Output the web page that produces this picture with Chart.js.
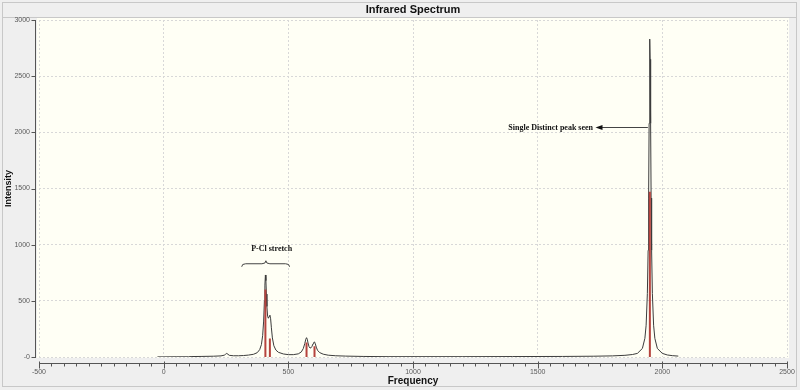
<!DOCTYPE html>
<html>
<head>
<meta charset="utf-8">
<script src="https://cdn.jsdelivr.net/npm/chart.js@4"></script>
<style>
html, body { margin: 0; padding: 0; background: #efefef; }
</style>
</head>
<body>
<canvas id="myChart" width="800" height="390"></canvas>
<script>
// espectro (frecuencia, intensidad)
const frecuencias = [
    -25, 0, 50, 100, 110, 150, 200, 230, 243, 248,
    253, 258, 263, 280, 300, 320, 340, 360, 375, 385,
    392, 397, 401, 404, 406, 408, 410, 412, 414, 417,
    420, 423, 426, 429, 432, 436, 442, 450, 460, 480,
    500, 520, 540, 552, 560, 566, 570, 573, 576, 579,
    583, 587, 591, 595, 599, 602, 605, 608, 612, 617,
    625, 640, 660, 690, 730, 800, 900, 1000, 1200, 1400,
    1600, 1725, 1800, 1850, 1880, 1900, 1920, 1930, 1935, 1940,
    1943, 1945, 1947, 1949, 1950, 1951, 1953, 1955, 1957, 1960,
    1965, 1970, 1980, 2000, 2020, 2040, 2064
]
const intensidades = [
    1, 1, 2, 2, 4, 5, 7, 10, 16, 24,
    32, 24, 15, 11, 11, 13, 17, 24, 38, 65,
    110, 190, 320, 500, 640, 730, 680, 560, 450, 360,
    345, 362, 372, 340, 260, 170, 100, 62, 42, 27,
    21, 21, 28, 45, 75, 120, 158, 172, 158, 125,
    92, 80, 82, 95, 118, 130, 134, 120, 88, 60,
    40, 25, 16, 11, 8, 5, 3, 3, 3, 4,
    5, 7, 10, 15, 22, 32, 76, 166, 283, 566,
    950, 1415, 2080, 2650, 2830, 2650, 2080, 1415, 950, 566,
    283, 166, 76, 32, 18, 12, 8
]

// lineas rojas de cada modo vibracional
const picosFrec = [408, 426, 573, 605, 1950]
const picosAltura = [600, 165, 130, 95, 1470]

const etiquetasX = ['-500', '0', '500', '1000', '1500', '2000', '2500']
const etiquetasY = ['-0', '500', '1000', '1500', '2000', '2500', '3000']

const titulo = 'Infrared Spectrum'
const textoPCl = 'P-Cl stretch'
const textoPico = 'Single Distinct peak seen'

let puntosEspectro = frecuencias.map((f, i) => ({x: f, y: intensidades[i]}))

let puntosPicos = []
for (let i = 0; i < picosFrec.length; i++) {
    puntosPicos.push({x: picosFrec[i], y: 0})
    puntosPicos.push({x: picosFrec[i], y: picosAltura[i]})
    puntosPicos.push({x: picosFrec[i], y: null})
}

const fondo = {
    id: 'fondo',
    beforeDraw(chart) {
        const ctx = chart.ctx
        const a = chart.chartArea
        ctx.save()
        ctx.fillStyle = '#efefef'
        ctx.fillRect(0, 0, chart.width, chart.height)
        ctx.strokeStyle = '#c8c8c8'
        ctx.lineWidth = 1
        ctx.strokeRect(2.5, 2.5, chart.width - 6, chart.height - 6)
        ctx.beginPath()
        ctx.moveTo(3, 17.5)
        ctx.lineTo(chart.width - 4, 17.5)
        ctx.stroke()
        ctx.fillStyle = '#fffff5'
        ctx.fillRect(a.left - 2, a.top - 2, a.right - a.left + 4, a.bottom - a.top + 3)
        ctx.fillStyle = '#111'
        ctx.font = 'bold 11px "Liberation Sans"'
        ctx.textAlign = 'center'
        ctx.textBaseline = 'middle'
        ctx.fillText(titulo, (a.left + a.right) / 2, 10)
        ctx.restore()
    }
}

const ejes = {
    id: 'ejes',
    afterDraw(chart) {
        const ctx = chart.ctx
        const sx = chart.scales.x
        const sy = chart.scales.y
        const a = chart.chartArea
        ctx.save()
        ctx.strokeStyle = '#555'
        ctx.lineWidth = 1
        // eje y
        let xe = a.left - 3.5
        ctx.beginPath()
        ctx.moveTo(xe, sy.getPixelForValue(3000))
        ctx.lineTo(xe, a.bottom + 1)
        for (let v = 0; v <= 3000; v += 500) {
            let py = Math.round(sy.getPixelForValue(v)) + 0.5
            ctx.moveTo(xe - 4, py)
            ctx.lineTo(xe, py)
        }
        ctx.stroke()
        // eje x
        let ye = a.bottom + 6.5
        ctx.beginPath()
        ctx.moveTo(sx.getPixelForValue(-500), ye)
        ctx.lineTo(sx.getPixelForValue(2500), ye)
        for (let v = -500; v <= 2500; v += 50) {
            let px = Math.round(sx.getPixelForValue(v)) + 0.5
            let largo = (v % 500 === 0) ? 5 : 3
            ctx.moveTo(px, ye - (v % 500 === 0 ? 2 : 0))
            ctx.lineTo(px, ye + largo)
        }
        ctx.stroke()
        ctx.restore()
    },
    afterDatasetsDraw(chart) {
        const ctx = chart.ctx
        const sx = chart.scales.x
        const sy = chart.scales.y
        ctx.save()
        ctx.strokeStyle = '#444'
        ctx.fillStyle = '#111'
        ctx.lineWidth = 1
        // llave P-Cl
        let x1 = sx.getPixelForValue(313)
        let x2 = sx.getPixelForValue(505)
        let xm = sx.getPixelForValue(410)
        let yb = sy.getPixelForValue(830)
        ctx.beginPath()
        ctx.moveTo(x1, yb + 3)
        ctx.quadraticCurveTo(x1, yb, x1 + 4, yb)
        ctx.lineTo(xm - 4, yb)
        ctx.quadraticCurveTo(xm, yb, xm, yb - 3)
        ctx.quadraticCurveTo(xm, yb, xm + 4, yb)
        ctx.lineTo(x2 - 4, yb)
        ctx.quadraticCurveTo(x2, yb, x2, yb + 3)
        ctx.stroke()
        ctx.font = 'bold 8px "Liberation Serif"'
        ctx.textAlign = 'center'
        ctx.textBaseline = 'middle'
        ctx.fillText(textoPCl, sx.getPixelForValue(433), sy.getPixelForValue(965))
        // flecha al pico
        let ya = Math.round(sy.getPixelForValue(2048)) + 0.5
        let xa = sx.getPixelForValue(1732)
        ctx.beginPath()
        ctx.moveTo(sx.getPixelForValue(1942), ya)
        ctx.lineTo(xa + 5, ya)
        ctx.stroke()
        ctx.beginPath()
        ctx.moveTo(xa, ya)
        ctx.lineTo(xa + 7, ya - 2.5)
        ctx.lineTo(xa + 7, ya + 2.5)
        ctx.closePath()
        ctx.fill()
        ctx.textAlign = 'right'
        ctx.fillText(textoPico, sx.getPixelForValue(1722), ya)
        ctx.restore()
    }
}

let config = {
    type: 'line',
    data: {
        datasets: [{
            label: 'picos',
            data: puntosPicos,
            borderColor: '#b5433e',
            borderWidth: 2,
            pointRadius: 0,
            spanGaps: false,
            order: 0
        }, {
            label: 'espectro',
            data: puntosEspectro,
            borderColor: '#3c3c3c',
            borderWidth: 1,
            pointRadius: 0,
            tension: 0,
            order: 1
        }]
    },
    options: {
        responsive: false,
        animation: false,
        layout: {padding: {top: 20, right: 13, left: 0, bottom: 0}},
        plugins: {legend: {display: false}, tooltip: {enabled: false}},
        scales: {
            x: {
                type: 'linear',
                min: -500,
                max: 2500,
                afterFit: s => {
                    s.height = 33
                    s.paddingLeft = 0
                    s.paddingRight = 0
                },
                ticks: {
                    stepSize: 500,
                    maxRotation: 0,
                    padding: 11,
                    color: '#5a5a5a',
                    font: {size: 7, family: 'Liberation Sans'},
                    callback: (v, i) => etiquetasX[i]
                },
                grid: {color: '#d8d8d8', drawTicks: false},
                border: {display: false, dash: [2, 2]},
                title: {
                    display: true,
                    text: 'Frequency',
                    color: '#111',
                    font: {size: 10, weight: 'bold', family: 'Liberation Sans'},
                    padding: {top: 0, bottom: 3}
                }
            },
            y: {
                min: 0,
                max: 3000,
                afterFit: s => { s.width = 39 },
                ticks: {
                    stepSize: 500,
                    padding: 9,
                    color: '#5a5a5a',
                    font: {size: 7, family: 'Liberation Sans'},
                    callback: (v, i) => etiquetasY[i]
                },
                grid: {color: '#d8d8d8', drawTicks: false},
                border: {display: false, dash: [2, 2]},
                title: {
                    display: true,
                    text: 'Intensity',
                    color: '#111',
                    font: {size: 9, weight: 'bold', family: 'Liberation Sans'},
                    padding: {top: 3, bottom: 0}
                }
            }
        }
    },
    plugins: [fondo, ejes]
}

let myChart = new Chart(document.getElementById('myChart'), config)
</script>
</body>
</html>
